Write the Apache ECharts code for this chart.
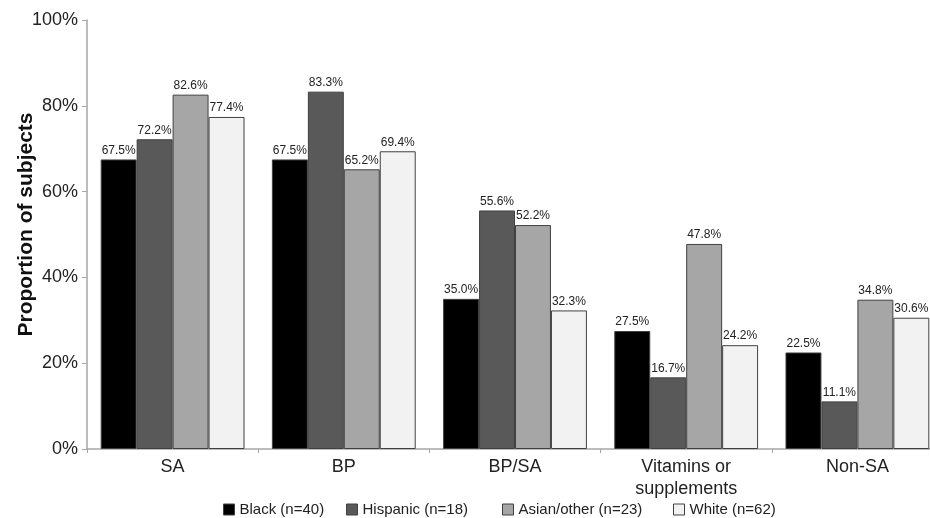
<!DOCTYPE html>
<html>
<head>
<meta charset="utf-8">
<script src="https://cdn.jsdelivr.net/npm/echarts@6/dist/echarts.min.js"></script>
<style>
html,body{margin:0;padding:0;background:#fff;overflow:hidden;}
#chart{width:930px;height:518px;}
</style>
</head>
<body>
<div id="chart"></div>
<script>
var categories = ['SA', 'BP', 'BP/SA', 'Vitamins or\nsupplements', 'Non-SA'];
var seriesNames = ['Black (n=40)', 'Hispanic (n=18)', 'Asian/other (n=23)', 'White (n=62)'];
var black = [67.5, 67.5, 35.0, 27.5, 22.5];
var hispanic = [72.2, 83.3, 55.6, 16.7, 11.1];
var asian = [82.6, 65.2, 52.2, 47.8, 34.8];
var white = [77.4, 69.4, 32.3, 24.2, 30.6];
var yTicks = [0, 20, 40, 60, 80, 100];

var colors = ['#000000', '#595959', '#a6a6a6', '#f2f2f2'];
var allData = [black, hispanic, asian, white];
var legendLefts = [223, 346, 502, 673];
var FONT = "'Liberation Sans', Arial, sans-serif";

var chart = echarts.init(document.getElementById('chart'));
var series = seriesNames.map(function (n, i) {
  return {
    name: n,
    type: 'bar',
    data: allData[i],
    barGap: '0%',
    barCategoryGap: '16%',
    itemStyle: { color: colors[i], borderColor: '#404040', borderWidth: 1 },
    label: {
      show: true,
      position: 'top',
      distance: 3,
      fontSize: 12,
      color: '#222',
      fontFamily: FONT,
      formatter: function (p) { return p.value.toFixed(1) + '%'; }
    },
    emphasis: { disabled: true }
  };
});

var legends = seriesNames.map(function (n, i) {
  return {
    data: [{ name: n, itemStyle: { color: colors[i], borderColor: '#404040', borderWidth: 1 } }],
    left: legendLefts[i],
    top: 502,
    padding: 0,
    itemWidth: 11,
    itemHeight: 11,
    itemGap: 0,
    textStyle: { fontSize: 15, color: '#222', fontFamily: FONT },
    selectedMode: false,
    icon: 'rect'
  };
});

chart.setOption({
  animation: false,
  backgroundColor: '#fff',
  textStyle: { fontFamily: FONT },
  grid: { left: 87, right: -13, top: 20, bottom: 69, containLabel: false, outerBoundsMode: 'none' },
  legend: legends,
  xAxis: {
    type: 'category',
    data: categories,
    axisLine: { lineStyle: { color: '#a6a6a6', width: 1.5 } },
    axisTick: { show: true, length: 4, lineStyle: { color: '#a6a6a6' } },
    axisLabel: { fontSize: 18, color: '#222', margin: 7, lineHeight: 22, fontFamily: FONT, interval: 0 },
    splitLine: { show: false }
  },
  yAxis: {
    type: 'value',
    min: 0,
    max: 100,
    interval: 20,
    name: 'Proportion of subjects',
    nameLocation: 'middle',
    nameGap: 50,
    nameMoveOverlap: false,
    nameTextStyle: { fontSize: 21, fontWeight: 'bold', color: '#111', fontFamily: FONT, padding: [0, 0, 0, 20] },
    axisLine: { show: true, lineStyle: { color: '#a6a6a6', width: 1.5 } },
    axisTick: { show: true, length: 5, lineStyle: { color: '#a6a6a6' } },
    axisLabel: {
      fontSize: 18, color: '#222', margin: 9, fontFamily: FONT,
      formatter: function (v) { return yTicks.indexOf(v) >= 0 ? v + '%' : ''; }
    },
    splitLine: { show: false }
  },
  series: series
});
</script>
</body>
</html>
